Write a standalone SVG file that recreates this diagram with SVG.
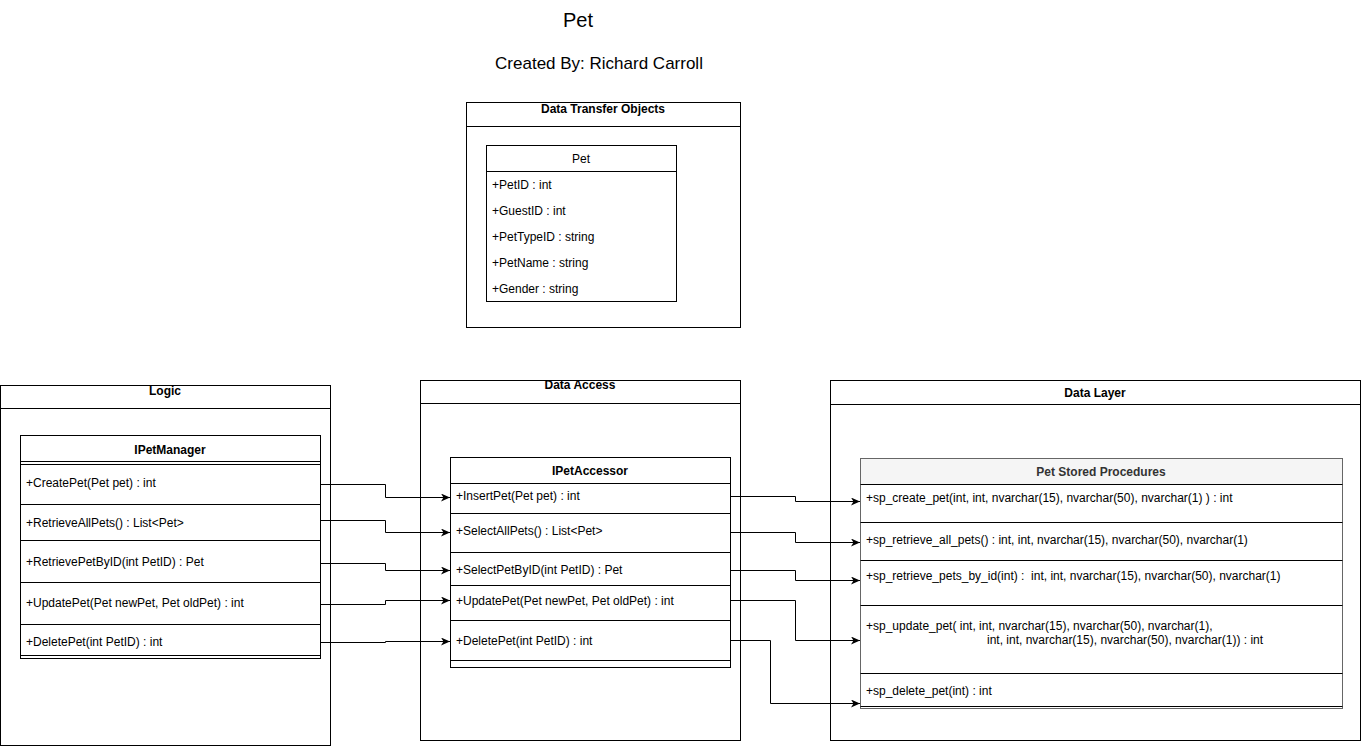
<svg xmlns="http://www.w3.org/2000/svg" width="1361" height="746" viewBox="0 0 1361 746">
<style>
text{font-family:"Liberation Sans",Arial,Helvetica,sans-serif;font-size:12px;fill:#000}
.b{font-weight:bold}
.c{text-anchor:middle}
.box{fill:#fff;stroke:#000;stroke-width:1}
.ln{stroke:#000;stroke-width:1;fill:none}
.gbox{fill:#fff;stroke:#666;stroke-width:1}
.gln{stroke:#000;stroke-width:1;fill:none}
.conn{stroke:#000;stroke-width:1;fill:none;marker-end:url(#arr)}
</style>
<defs>
<marker id="arr" markerUnits="userSpaceOnUse" markerWidth="10" markerHeight="10" refX="9" refY="4" orient="auto">
<path d="M0,0 L9,4 L0,8 L2.5,4 z" fill="#000"/>
</marker>
</defs>
<rect width="1361" height="746" fill="#fff"/>
<g id="title">
<text x="578" y="27" class="c" style="font-size:20px">Pet</text>
<text x="599" y="69" class="c" style="font-size:17px">Created By: Richard Carroll</text>
</g>
<g id="dto">
<rect class="box" x="466.5" y="102.5" width="274" height="225"/>
<line class="ln" x1="466.5" y1="126.5" x2="740.5" y2="126.5"/>
<text x="603" y="113" class="c b">Data Transfer Objects</text>
</g>
<g id="pet-class">
<rect class="box" x="486.5" y="145.5" width="190" height="156"/>
<line class="ln" x1="486.5" y1="171.5" x2="676.5" y2="171.5"/>
<text x="581" y="163" class="c">Pet</text>
<text x="492" y="189">+PetID : int</text>
<text x="492" y="215">+GuestID : int</text>
<text x="492" y="241">+PetTypeID : string</text>
<text x="492" y="267">+PetName : string</text>
<text x="492" y="293">+Gender : string</text>
</g>
<g id="logic">
<rect class="box" x="0.5" y="385.5" width="330" height="360"/>
<line class="ln" x1="0.5" y1="408.5" x2="330.5" y2="408.5"/>
<text x="165" y="395" class="c b">Logic</text>
</g>
<g id="data-access">
<rect class="box" x="420.5" y="380.5" width="320" height="360"/>
<line class="ln" x1="420.5" y1="403.5" x2="740.5" y2="403.5"/>
<text x="580" y="389" class="c b">Data Access</text>
</g>
<g id="data-layer">
<rect class="box" x="830.5" y="380.5" width="530" height="360"/>
<line class="ln" x1="830.5" y1="404.5" x2="1360.5" y2="404.5"/>
<text x="1095" y="397" class="c b">Data Layer</text>
</g>
<g id="ipetmanager">
<rect class="box" x="20.5" y="435.5" width="300" height="223"/>
<line class="ln" x1="20.5" y1="461.5" x2="320.5" y2="461.5"/>
<line class="ln" x1="20.5" y1="464.5" x2="320.5" y2="464.5"/>
<line class="ln" x1="20.5" y1="504.5" x2="320.5" y2="504.5"/>
<line class="ln" x1="20.5" y1="540.5" x2="320.5" y2="540.5"/>
<line class="ln" x1="20.5" y1="582.5" x2="320.5" y2="582.5"/>
<line class="ln" x1="20.5" y1="624.5" x2="320.5" y2="624.5"/>
<line class="ln" x1="20.5" y1="655.5" x2="320.5" y2="655.5"/>
<text x="170" y="454" class="c b">IPetManager</text>
<text x="26" y="487">+CreatePet(Pet pet) : int</text>
<text x="26" y="527">+RetrieveAllPets() : List&lt;Pet&gt;</text>
<text x="26" y="566">+RetrievePetByID(int PetID) : Pet</text>
<text x="26" y="607">+UpdatePet(Pet newPet, Pet oldPet) : int</text>
<text x="26" y="646">+DeletePet(int PetID) : int</text>
</g>
<g id="ipetaccessor">
<rect class="box" x="450.5" y="457.5" width="280" height="210"/>
<line class="ln" x1="450.5" y1="483.5" x2="730.5" y2="483.5"/>
<line class="ln" x1="450.5" y1="513.5" x2="730.5" y2="513.5"/>
<line class="ln" x1="450.5" y1="552.5" x2="730.5" y2="552.5"/>
<line class="ln" x1="450.5" y1="585.5" x2="730.5" y2="585.5"/>
<line class="ln" x1="450.5" y1="620.5" x2="730.5" y2="620.5"/>
<line class="ln" x1="450.5" y1="660.5" x2="730.5" y2="660.5"/>
<text x="590" y="475" class="c b">IPetAccessor</text>
<text x="456" y="500">+InsertPet(Pet pet) : int</text>
<text x="456" y="535">+SelectAllPets() : List&lt;Pet&gt;</text>
<text x="456" y="574">+SelectPetByID(int PetID) : Pet</text>
<text x="456" y="605">+UpdatePet(Pet newPet, Pet oldPet) : int</text>
<text x="456" y="645">+DeletePet(int PetID) : int</text>
</g>
<g id="pet-stored-procedures">
<rect class="gbox" x="860.5" y="458.5" width="482" height="250"/>
<rect x="861" y="459" width="481" height="25" fill="#f5f5f5"/>
<line class="gln" x1="860.5" y1="484.5" x2="1342.5" y2="484.5"/>
<line class="gln" x1="860.5" y1="522.5" x2="1342.5" y2="522.5"/>
<line class="gln" x1="860.5" y1="560.5" x2="1342.5" y2="560.5"/>
<line class="gln" x1="860.5" y1="605.5" x2="1342.5" y2="605.5"/>
<line class="gln" x1="860.5" y1="673.5" x2="1342.5" y2="673.5"/>
<line class="gln" x1="860.5" y1="706.5" x2="1342.5" y2="706.5"/>
<text x="1101" y="476" class="c b" style="fill:#333">Pet Stored Procedures</text>
<text x="866" y="502">+sp_create_pet(int, int, nvarchar(15), nvarchar(50), nvarchar(1) ) : int</text>
<text x="866" y="544">+sp_retrieve_all_pets() : int, int, nvarchar(15), nvarchar(50), nvarchar(1)</text>
<text x="866" y="580" xml:space="preserve">+sp_retrieve_pets_by_id(int) :  int, int, nvarchar(15), nvarchar(50), nvarchar(1)</text>
<text x="866" y="630">+sp_update_pet( int, int, nvarchar(15), nvarchar(50), nvarchar(1),</text>
<text x="987" y="644">int, int, nvarchar(15), nvarchar(50), nvarchar(1)) : int</text>
<text x="866" y="695">+sp_delete_pet(int) : int</text>
</g>
<g id="connectors">
<path class="conn" d="M320,484.5 H385.5 V497.5 H450"/>
<path class="conn" d="M320,520.5 H385.5 V532.5 H450"/>
<path class="conn" d="M320,563.5 H385.5 V570.5 H450"/>
<path class="conn" d="M320,604.5 H385.5 V600.5 H450"/>
<path class="conn" d="M320,642.5 H385.5 V641.5 H450"/>
<path class="conn" d="M730,496.5 H795.5 V501.5 H860"/>
<path class="conn" d="M730,532.5 H795.5 V542.5 H860"/>
<path class="conn" d="M730,570.5 H795.5 V580.5 H860"/>
<path class="conn" d="M730,600.5 H795.5 V640.5 H860"/>
<path class="conn" d="M730,640.5 H770.5 V703.5 H860"/>
</g>
</svg>
